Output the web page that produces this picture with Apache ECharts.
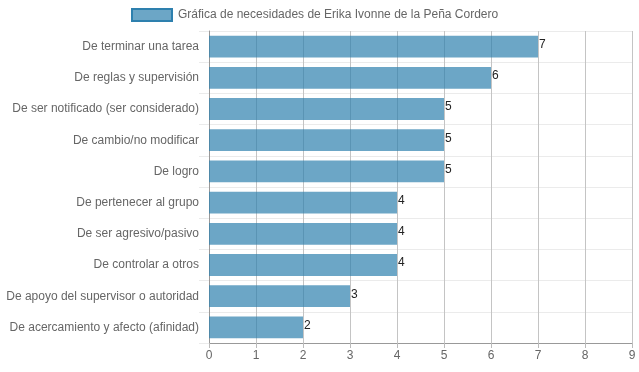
<!DOCTYPE html>
<html><head><meta charset="utf-8">
<script src="https://cdn.jsdelivr.net/npm/echarts@6/dist/echarts.min.js"></script>
<style>html,body{margin:0;padding:0;background:#fff}#c{width:639px;height:372px}</style>
</head><body><div id="c"></div>
<script>
const categories = [
  "De terminar una tarea",
  "De reglas y supervisión",
  "De ser notificado (ser considerado)",
  "De cambio/no modificar",
  "De logro",
  "De pertenecer al grupo",
  "De ser agresivo/pasivo",
  "De controlar a otros",
  "De apoyo del supervisor o autoridad",
  "De acercamiento y afecto (afinidad)"
];
const values = [7, 6, 5, 5, 5, 4, 4, 4, 3, 2];
const seriesName = "Gráfica de necesidades de Erika Ivonne de la Peña Cordero";
const xTicks = {min: 0, max: 9, interval: 1};

const chart = echarts.init(document.getElementById('c'), null, {renderer: 'canvas'});
chart.setOption({
  animation: false,
  textStyle: {fontFamily: 'Arial, Liberation Sans, sans-serif'},
  legend: {
    top: 8, left: 131, padding: 0,
    itemWidth: 40, itemHeight: 12, itemGap: 5,
    icon: 'rect',
    textStyle: {color: '#666', fontSize: 12, padding: [0, 0, 0, 1]},
    itemStyle: {borderColor: 'rgba(46,128,174,1)', borderWidth: 2}
  },
  grid: {left: 209, right: 7, top: 31, bottom: 29, containLabel: false},
  xAxis: {
    type: 'value', min: xTicks.min, max: xTicks.max, interval: xTicks.interval,
    axisLine: {show: true, lineStyle: {color: '#999'}},
    axisTick: {show: true, length: 5, lineStyle: {color: '#bbb'}},
    axisLabel: {color: '#666', fontSize: 12, margin: 7},
    splitLine: {show: true, lineStyle: {color: '#c4c4c4'}}
  },
  yAxis: {
    type: 'category', data: categories, inverse: true,
    axisLine: {show: true, lineStyle: {color: '#999'}},
    axisTick: {show: true, length: 10, lineStyle: {color: '#ebebeb'}},
    axisLabel: {color: '#666', fontSize: 12, margin: 10},
    splitLine: {show: true, lineStyle: {color: '#ebebeb'}}
  },
  series: [{
    name: seriesName, type: 'bar', data: values,
    barCategoryGap: '30%',
    itemStyle: {color: 'rgba(46,128,174,0.7)'},
    label: {show: true, position: 'right', distance: 1, offset: [0, -2], color: '#222', fontSize: 12}
  }]
});
</script></body></html>
